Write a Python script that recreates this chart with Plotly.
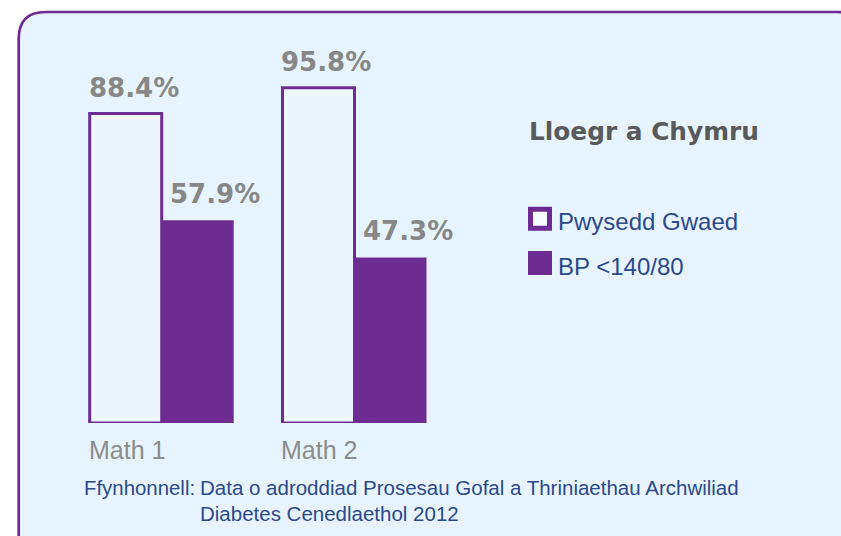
import plotly.graph_objects as go

# ---- data ----
categories = ["Math 1", "Math 2"]
series_names = ["Pwysedd Gwaed", "BP <140/80"]
pwysedd_gwaed = [88.4, 95.8]
bp_under = [57.9, 47.3]
legend_title = "Lloegr a Chymru"
source_label = "Ffynhonnell:"
source_lines = ["Data o adroddiad Prosesau Gofal a Thriniaethau Archwiliad",
                "Diabetes Cenedlaethol 2012"]

# ---- style ----
W, H = 841, 536
PURPLE = "#6c2c91"
BG = "#e8f4fd"
INNER = "#edf6fd"
LEG_INNER = "#f6fbff"
GREY_VAL = "#878787"
GREY_CAT = "#8c8c8c"
TITLE_C = "#58595b"
BLUE = "#2b4a8b"
BARGAP = 0.253
HALF = (1 - BARGAP) / 2


def px(x):
    return x / W


def py(y):
    return 1 - y / H


x_idx = list(range(len(categories)))

fig = go.Figure()
fig.add_bar(x=x_idx, y=pwysedd_gwaed, name=series_names[0],
            marker=dict(color=INNER, line=dict(color=PURPLE, width=3)))
fig.add_bar(x=x_idx, y=bp_under, name=series_names[1],
            marker=dict(color=PURPLE, line=dict(width=0)))

annotations = []
for i, (a, b) in enumerate(zip(pwysedd_gwaed, bp_under)):
    annotations.append(dict(x=i - HALF, y=a, xref="x", yref="y", text=f"{a}%",
                            xanchor="left", yanchor="middle", xshift=-3, yshift=26,
                            showarrow=False,
                            font=dict(family="DejaVu Sans", size=26, color=GREY_VAL, weight="bold")))
    annotations.append(dict(x=i, y=b, xref="x", yref="y", text=f"{b}%",
                            xanchor="left", yanchor="middle", xshift=6, yshift=26,
                            showarrow=False,
                            font=dict(family="DejaVu Sans", size=26, color=GREY_VAL, weight="bold")))
    annotations.append(dict(x=i - HALF, y=py(450), xref="x", yref="paper", text=categories[i],
                            xanchor="left", yanchor="middle", xshift=-3, showarrow=False,
                            font=dict(family="Liberation Sans", size=25, color=GREY_CAT)))

# legend (drawn manually)
annotations.append(dict(x=px(527), y=py(131.2), xref="paper", yref="paper", text=legend_title,
                        xanchor="left", yanchor="middle", showarrow=False,
                        font=dict(family="DejaVu Sans", size=24.8, color=TITLE_C, weight="bold")))
for name, yc in zip(series_names, [221.5, 266.6]):
    annotations.append(dict(x=px(556.4), y=py(yc), xref="paper", yref="paper", text=name,
                            xanchor="left", yanchor="middle", showarrow=False,
                            font=dict(family="Liberation Sans", size=24, color=BLUE)))

# source caption
annotations.append(dict(x=px(82.4), y=py(487.9), xref="paper", yref="paper", text=source_label,
                        xanchor="left", yanchor="middle", showarrow=False,
                        font=dict(family="Liberation Sans", size=20.4, color=BLUE)))
for line, yc in zip(source_lines, [487.9, 513.3]):
    annotations.append(dict(x=px(198), y=py(yc), xref="paper", yref="paper", text=line,
                            xanchor="left", yanchor="middle", showarrow=False,
                            font=dict(family="Liberation Sans", size=20.5, color=BLUE)))


def rrect(x0, y0, x1, y1, r):
    pts = [("M", [(x0 + r, y0)]), ("L", [(x1 - r, y0)]), ("Q", [(x1, y0), (x1, y0 + r)]),
           ("L", [(x1, y1 - r)]), ("Q", [(x1, y1), (x1 - r, y1)]),
           ("L", [(x0 + r, y1)]), ("Q", [(x0, y1), (x0, y1 - r)]),
           ("L", [(x0, y0 + r)]), ("Q", [(x0, y0), (x0 + r, y0)])]
    s = ""
    for cmd, ps in pts:
        s += cmd + " " + " ".join(f"{px(a):.5f},{py(b):.5f}" for a, b in ps) + " "
    return s + "Z"


shapes = [
    dict(type="path", xref="paper", yref="paper", path=rrect(18.7, 12, 864, 562, 27),
         fillcolor=BG, line=dict(color=PURPLE, width=2.7), layer="below"),
    dict(type="rect", xref="paper", yref="paper", x0=px(530.5), x1=px(549.5),
         y0=py(228.2), y1=py(209.2), fillcolor=LEG_INNER, line=dict(color=PURPLE, width=5)),
    dict(type="rect", xref="paper", yref="paper", x0=px(528), x1=px(552),
         y0=py(275), y1=py(251), fillcolor=PURPLE, line=dict(width=0)),
]

fig.update_layout(
    width=W, height=H, margin=dict(l=0, r=0, t=0, b=0),
    paper_bgcolor="white", plot_bgcolor="rgba(0,0,0,0)",
    barmode="group", bargap=BARGAP, bargroupgap=0,
    showlegend=False, hovermode=False,
    xaxis=dict(range=[-161.7 / 192.8, (W - 161.7) / 192.8], domain=[0, 1],
               showgrid=False, zeroline=False, showticklabels=False, showline=False),
    yaxis=dict(range=[0, 100], domain=[(H - 423) / H, (H - 73) / H],
               showgrid=False, zeroline=False, showticklabels=False, showline=False),
    annotations=annotations, shapes=shapes,
)

fig.write_html("out.html", config={"displayModeBar": False},
               post_script="document.body.style.margin='0';document.body.style.overflow='hidden';")
